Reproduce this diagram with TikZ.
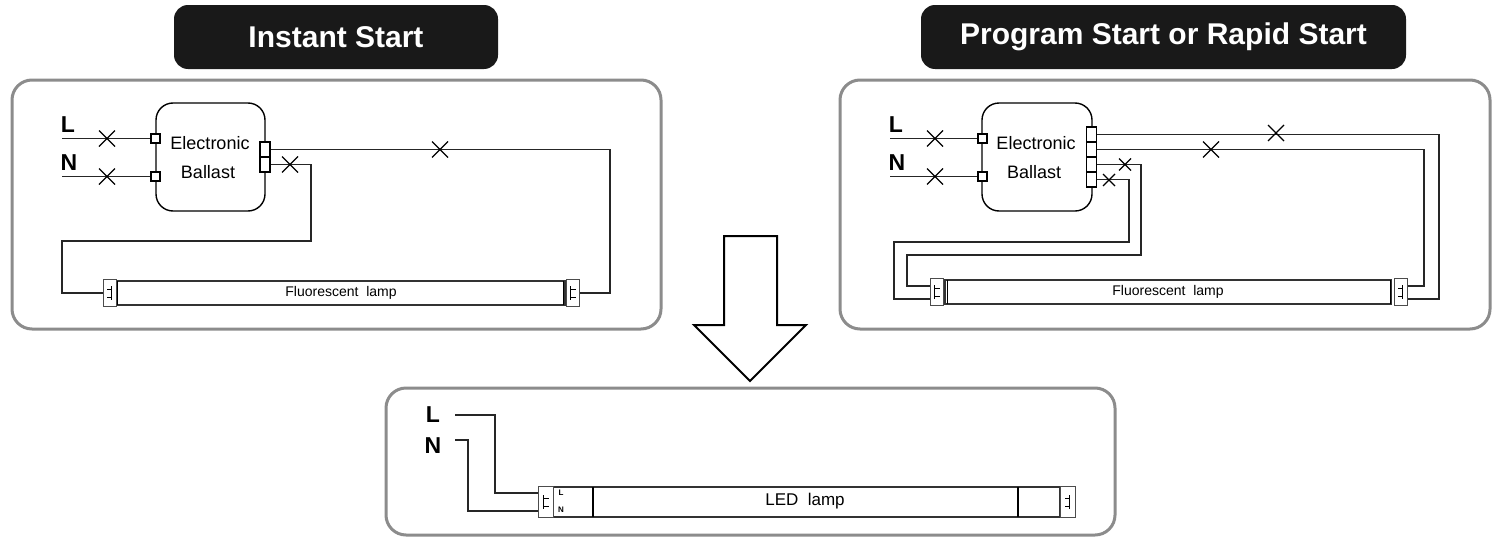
\documentclass[tikz,border=0pt]{standalone}
\usepackage{fontspec}
\setmainfont{Liberation Sans}
\begin{document}
\begin{tikzpicture}[x=1pt,y=-1pt,
  wire/.style={line width=1.4pt,black!85},
  panel/.style={draw=black!45,line width=3pt,rounded corners=20pt},
  title/.style={fill=black!90,rounded corners=14pt,text=white,font=\bfseries\fontsize{30}{30}\selectfont,inner sep=0pt},
  term/.style={draw,line width=1.3pt,fill=white,minimum width=9pt,minimum height=9pt,inner sep=0pt},
  strip/.style={draw,line width=1.3pt,fill=white,minimum width=10pt,minimum height=15pt,inner sep=0pt},
  ballast/.style={draw,line width=1.4pt,rounded corners=17pt,minimum width=109pt,minimum height=108pt,inner sep=0pt},
  endcap/.style={draw,line width=1pt,black!70,fill=white,minimum width=13pt,minimum height=27pt,inner sep=0pt},
  tube/.style={draw,line width=1.2pt,black!80,minimum height=24pt,inner sep=0pt},
  lbl/.style={font=\bfseries\fontsize{23}{23}\selectfont},
  btxt/.style={font=\fontsize{18}{18}\selectfont},
  ltxt/.style={font=\fontsize{14}{14}\selectfont},
  xm/.pic={\draw[line width=1.2pt] (-8,-8)--(8,8) (-8,8)--(8,-8);},
  xs/.pic={\draw[line width=1.2pt] (-6,-6)--(6,6) (-6,6)--(6,-6);},
  pinsR/.pic={\draw[line width=0.9pt] (-2,-7)--(-2,7) (-2,-4)--(3,-4) (-2,4)--(3,4);},
  pinsL/.pic={\draw[line width=0.9pt] (2,-7)--(2,7) (2,-4)--(-3,-4) (2,4)--(-3,4);}
]
\useasboundingbox (0,0) rectangle (1498,546);
\fill[white] (0,0) rectangle (1498,546);
% titles
\node[title,minimum width=324pt,minimum height=64pt] (t1) at (336,37) {Instant Start};
\node[title,minimum width=485pt,minimum height=64pt] (t2) at (1163.5,37) {Program Start or Rapid Start};
% panels
\draw[panel] (12,80) rectangle (661,329);
\draw[panel] (840,80) rectangle (1490,329);
\draw[panel] (386,388) rectangle (1115,535);
% arrow
\draw[line width=2pt,fill=white] (724,236)--(777,236)--(777,325)--(806,325)--(750,381)--(694,325)--(724,325)--cycle;

% ===== Left panel =====
\node[ballast] (b1) at (210.5,157) {};
\node[btxt] (b1e) at (210,143) {Electronic};
\node[btxt] (b1b) at (208,172) {Ballast};
\node[term] (l1) at (155.5,138.5) {};
\node[term] (n1) at (155.5,176.5) {};
\node[strip] (s1a) at (265,149.5) {};
\node[strip] (s1b) at (265,164.5) {};
\node[lbl] (L1) at (68,125) {L};
\node[lbl] (N1) at (69,163) {N};
\coordinate (L1s) at (62,138.5);
\coordinate (N1s) at (62,176.5);
\draw[wire] (L1s) -- (l1.west);
\draw[wire] (N1s) -- (n1.west);
\pic at (107,138.5) {xm};
\pic at (107,176.5) {xm};
\node[tube,minimum width=448pt] (ft1) at (341,293) {};
\node[ltxt] at (341,293) {Fluorescent\ \ lamp};
\node[endcap] (c1l) at (109.5,293) {};
\node[endcap] (c1r) at (572.5,293) {};
\pic at (109.5,293) {pinsL};
\pic at (572.5,293) {pinsR};
\draw[line width=0.8pt] (117,281) -- (117,305) (563,281)--(563,305);
\coordinate (w1a) at (610,149.5);
\coordinate (w1b) at (311,164.5);
\coordinate (w1c) at (62,241);
\draw[wire] (s1a.east) -- (w1a) |- (c1r.east);
\draw[wire] (s1b.east) -- (w1b) |- (w1c) |- (c1l.west);
\pic at (440,149.5) {xm};
\pic at (290,164.5) {xm};

% ===== Right panel =====
\node[ballast,minimum width=110pt] (b2) at (1037,157) {};
\node[btxt] (b2e) at (1036,143) {Electronic};
\node[btxt] (b2b) at (1034,172) {Ballast};
\node[term] (l2) at (982.5,138.5) {};
\node[term] (n2) at (982.5,176.5) {};
\node[strip] (s2a) at (1091.5,134.5) {};
\node[strip] (s2b) at (1091.5,149.5) {};
\node[strip] (s2c) at (1091.5,164.5) {};
\node[strip] (s2d) at (1091.5,179.5) {};
\node[lbl] (L2) at (896,125) {L};
\node[lbl] (N2) at (897,163) {N};
\coordinate (L2s) at (890,138.5);
\coordinate (N2s) at (890,176.5);
\draw[wire] (L2s) -- (l2.west);
\draw[wire] (N2s) -- (n2.west);
\pic at (935,138.5) {xm};
\pic at (935,176.5) {xm};
\node[tube,minimum width=446pt] (ft2) at (1168,292) {};
\node[ltxt] at (1168,292) {Fluorescent\ \ lamp};
\node[endcap] (c2l) at (936.5,292) {};
\node[endcap] (c2r) at (1400.5,292) {};
\pic at (936.5,292) {pinsR};
\pic at (1400.5,292) {pinsL};
\draw[line width=0.8pt] (947,280) -- (947,304) (1390,280)--(1390,304);
\coordinate (r1) at (1439,134.5);
\coordinate (r2) at (1424,149.5);
\coordinate (r3a) at (1141,164.5);
\coordinate (r3b) at (907,255);
\coordinate (r4a) at (1129,179.5);
\coordinate (r4b) at (894,242);
\draw[wire] (s2a.east) -- (r1) |- ([yshift=-7pt]c2r.east);
\draw[wire] (s2b.east) -- (r2) |- ([yshift=6pt]c2r.east);
\draw[wire] (s2c.east) -- (r3a) |- (r3b) |- ([yshift=6pt]c2l.west);
\draw[wire] (s2d.east) -- (r4a) |- (r4b) |- ([yshift=-7pt]c2l.west);
\pic at (1276,133) {xm};
\pic at (1211,149.5) {xm};
\pic at (1125,164.5) {xs};
\pic at (1109,180) {xs};

% ===== Bottom panel =====
\node[lbl] (L3) at (433,415) {L};
\node[lbl] (N3) at (433,446) {N};
\node[tube,minimum width=507pt,minimum height=30pt] (led) at (806,502) {};
\node[font=\fontsize{17}{17}\selectfont] at (805,501) {LED\ \ lamp};
\draw[line width=1.2pt] (593,487) -- (593,517) (1018,487) -- (1018,517);
\node[endcap,minimum width=15pt,minimum height=31pt] (c3l) at (545.5,502) {};
\node[endcap,minimum width=15pt,minimum height=31pt] (c3r) at (1067.5,502) {};
\pic at (545.5,502) {pinsR};
\pic at (1067.5,502) {pinsL};
\node[font=\bfseries\fontsize{8}{8}\selectfont] at (561,493) {L};
\node[font=\bfseries\fontsize{8}{8}\selectfont] at (561,510) {N};
\coordinate (L3s) at (455,415);
\coordinate (L3c) at (495,415);
\coordinate (N3s) at (455,440);
\coordinate (N3c) at (468,440);
\draw[wire] (L3s) -- (L3c) |- ([yshift=9pt]c3l.west);
\draw[wire] (N3s) -- (N3c) |- ([yshift=-9pt]c3l.west);
\end{tikzpicture}
\end{document}
